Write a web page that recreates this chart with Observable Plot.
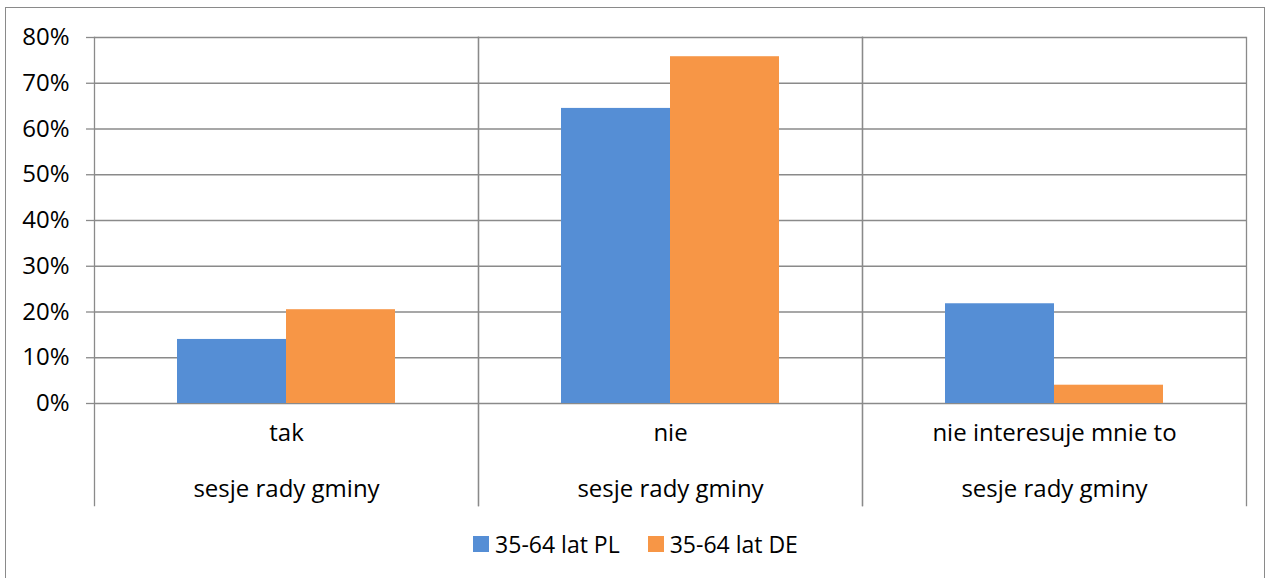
<!DOCTYPE html>
<html>
<head>
<meta charset="utf-8">
<script src="https://cdn.jsdelivr.net/npm/d3@7"></script>
<script src="https://cdn.jsdelivr.net/npm/@observablehq/plot@0.6"></script>
<style>
  html, body { margin: 0; padding: 0; background: #fff; }
  #wrap { position: relative; width: 1271px; height: 578px; overflow: hidden; font-family: "Open Sans", sans-serif; }
  #border { position: absolute; left: 5px; top: 7px; width: 1260px; height: 580px; border: 1px solid #8a8a8a; box-sizing: border-box; }
  #chart { position: absolute; left: 0; top: 0; }
  #legend { position: absolute; left: 0; top: 528px; width: 1271px; display: flex; justify-content: center; gap: 28px; font-size: 23px; color: #000; }
  .item { display: flex; align-items: center; gap: 6px; }
  .sw { width: 16px; height: 16px; display: inline-block; }
</style>
</head>
<body>
<div id="wrap">
  <div id="border"></div>
  <div id="chart"></div>
  <div id="legend"></div>
</div>
<script>
const categories = ["tak", "nie", "nie interesuje mnie to"];
const groupLabel = "sesje rady gminy";
const series = ["35-64 lat PL", "35-64 lat DE"];
const valuesPL = [0.14, 0.645, 0.218];
const valuesDE = [0.205, 0.758, 0.04];
const yTicks = [0, 0.1, 0.2, 0.3, 0.4, 0.5, 0.6, 0.7, 0.8];
const colors = ["#558ED5", "#F79646"];

const data = [];
categories.forEach((c, i) => {
  data.push({category: c, series: series[0], value: valuesPL[i]});
  data.push({category: c, series: series[1], value: valuesDE[i]});
});

const gridColor = "#8a8a8a";

const chart = Plot.plot({
  width: 1271,
  height: 520,
  marginLeft: 93,
  marginRight: 25,
  marginTop: 37,
  marginBottom: 117,
  style: {fontFamily: "'Open Sans', sans-serif", fontSize: "24px", color: "#000", background: "transparent", overflow: "visible"},
  fx: {domain: categories, padding: 0, axis: null, label: null},
  x: {domain: series, paddingInner: 0, paddingOuter: 0.75, axis: null, label: null},
  y: {domain: [0, 0.8], label: null},
  color: {domain: series, range: colors},
  marks: [
    Plot.gridY(yTicks, {stroke: gridColor, strokeOpacity: 1, strokeWidth: 1.3}),
    Plot.barY(data, {fx: "category", x: "series", y: "value", fill: "series"}),
    Plot.frame({anchor: "left", stroke: gridColor, strokeOpacity: 1, strokeWidth: 1.3, insetBottom: -102}),
    Plot.frame({anchor: "right", stroke: gridColor, strokeOpacity: 1, strokeWidth: 1.3, insetBottom: -102}),
    Plot.axisY(yTicks, {tickFormat: d3.format(".0%"), tickSize: 8, tickPadding: 17, stroke: gridColor, strokeOpacity: 1, strokeWidth: 1.3, fontSize: 24, fill: "#000", label: null}),
    Plot.text(categories, {fx: d => d, text: d => d, frameAnchor: "bottom", dy: 37, fontSize: 24, fill: "#000"}),
    Plot.text(categories, {fx: d => d, text: d => groupLabel, frameAnchor: "bottom", dy: 93, fontSize: 24, fill: "#000"})
  ]
});
document.getElementById("chart").appendChild(chart);

const legend = document.getElementById("legend");
series.forEach((s, i) => {
  const item = document.createElement("div");
  item.className = "item";
  const sw = document.createElement("span");
  sw.className = "sw";
  sw.style.background = colors[i];
  const t = document.createElement("span");
  t.textContent = s;
  item.appendChild(sw);
  item.appendChild(t);
  legend.appendChild(item);
});
</script>
</body>
</html>
